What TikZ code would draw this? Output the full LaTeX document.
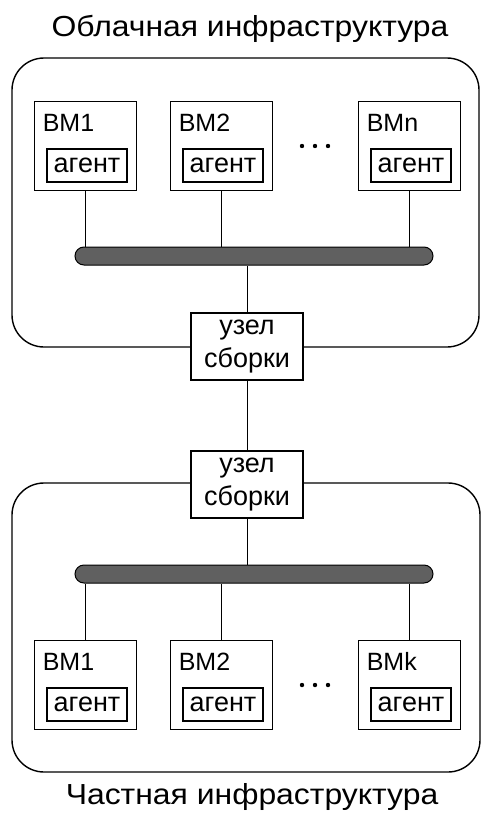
\documentclass[tikz,border=0pt]{standalone}
\usepackage{fontspec}
\setmainfont{Liberation Sans}
\newfontfamily\widefont[FakeStretch=1.1]{Liberation Sans}
\definecolor{busgray}{HTML}{606060}
\begin{document}
\begin{tikzpicture}[x=1pt,y=-1pt,
  frame/.style={draw, line width=1.4pt, rounded corners=32pt},
  title/.style={anchor=base, inner sep=0pt, font=\widefont\fontsize{29}{34}\selectfont},
  vm/.style={draw, line width=0.9pt, minimum width=102pt, minimum height=89pt, inner sep=0pt},
  vmlabel/.style={anchor=base west, inner sep=0pt, font=\fontsize{25}{30}\selectfont},
  agent/.style={draw, line width=2pt, minimum width=80pt, minimum height=33pt, inner sep=0pt,
    font=\fontsize{27}{30}\selectfont},
  bus/.style={draw, fill=busgray, line width=1pt, rounded corners=9pt,
    minimum width=358pt, minimum height=18pt, inner sep=0pt},
  asm/.style={draw, fill=white, line width=1.4pt, minimum width=112pt, minimum height=67pt,
    inner sep=0pt, align=center, font=\fontsize{27}{33}\selectfont},
  link/.style={line width=1pt}]
\useasboundingbox (0,0) rectangle (481,814);

% infrastructure frames
\draw[frame] (12,58) rectangle (479,347);
\draw[frame] (12,483) rectangle (480,772);

% titles
\node[title] (tcloud) at (250,36) {Облачная инфраструктура};
\node[title] (tpriv) at (252,804) {Частная инфраструктура};

% buses
\node[bus] (busU) at (254,256) {};
\node[bus] (busL) at (254,574) {};

% assembly nodes
\node[asm] (asmU) at (247,346.5) {узел\\сборки};
\node[asm] (asmL) at (247,484.5) {узел\\сборки};

% cloud virtual machines
\foreach \n/\x/\lab in {1/85/ВМ1, 2/221/ВМ2, 3/409/ВМn}{
  \node[vm] (vmU\n) at (\x,145.5) {};
  \node[vmlabel] (vmU\n l) at ([xshift=9pt,yshift=-31pt]vmU\n.north west) {\lab};
  \node[agent] (agU\n) at ([xshift=2pt,yshift=-20pt]vmU\n.center) {агент};
  \draw[link] (vmU\n) -- (vmU\n |- busU.north);
}
% private virtual machines
\foreach \n/\x/\lab in {1/85/ВМ1, 2/221/ВМ2, 3/409/ВМk}{
  \node[vm] (vmL\n) at (\x,684.5) {};
  \node[vmlabel] (vmL\n l) at ([xshift=9pt,yshift=-31pt]vmL\n.north west) {\lab};
  \node[agent] (agL\n) at ([xshift=2pt,yshift=-20pt]vmL\n.center) {агент};
  \draw[link] (vmL\n) -- (vmL\n |- busL.south);
}

% ellipses between machines
\foreach \y in {146,685}{
  \foreach \x in {302,315,328}{
    \fill (\x,\y) circle (2.2pt);
  }
}

% links between buses and assembly nodes
\draw[link] (asmU) -- (asmU |- busU.south);
\draw[link] (asmU) -- (asmL);
\draw[link] (asmL) -- (asmL |- busL.north);
\end{tikzpicture}
\end{document}
